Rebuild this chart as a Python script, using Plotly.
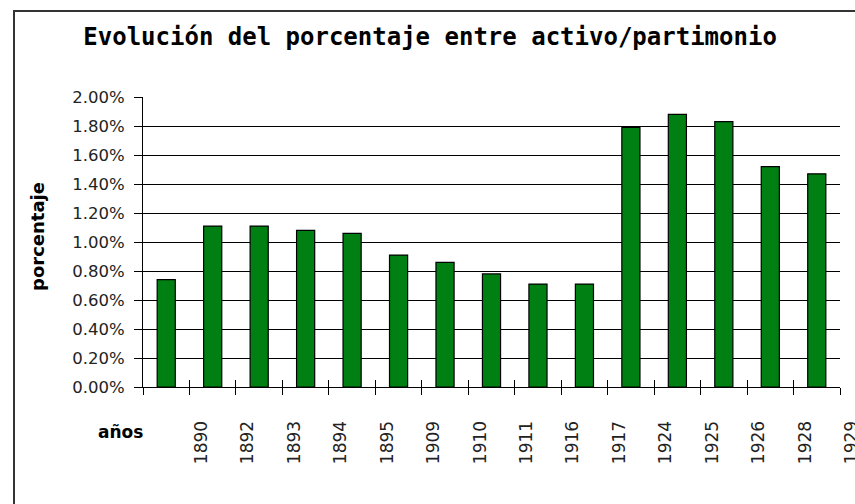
import plotly.graph_objects as go

years = ["1890", "1892", "1893", "1894", "1895", "1909", "1910", "1911",
         "1916", "1917", "1924", "1925", "1926", "1928", "1929"]
porcentaje = [0.0074, 0.0111, 0.0111, 0.0108, 0.0106, 0.0091, 0.0086, 0.0078,
              0.0071, 0.0071, 0.0179, 0.0188, 0.0183, 0.0152, 0.0147]
y_ticks = [0.000, 0.002, 0.004, 0.006, 0.008, 0.010, 0.012, 0.014, 0.016, 0.018, 0.020]

W, H = 855, 504
ML, MR, MT, MB = 143, 15, 97, 117
pw, ph = W - ML - MR, H - MT - MB

def px_x(p):
    return (p - ML) / pw

def px_y(p):
    return (H - MB - p) / ph

fig = go.Figure()
fig.add_trace(go.Bar(
    x=years, y=porcentaje,
    marker=dict(color="#008013", line=dict(color="#000000", width=1.2)),
    width=0.39,
    hoverinfo="skip",
))
fig.add_trace(go.Scatter(
    x=years, y=porcentaje, xaxis="x2", mode="markers",
    marker=dict(opacity=0), hoverinfo="skip", showlegend=False,
))

tickfont = dict(family="DejaVu Sans", size=16.5, color="#222222")

fig.update_layout(
    width=W, height=H,
    margin=dict(l=ML, r=MR, t=MT, b=MB, autoexpand=False),
    paper_bgcolor="white", plot_bgcolor="white",
    showlegend=False,
    title=dict(
        text="Evolución del porcentaje entre activo/partimonio",
        font=dict(family="DejaVu Sans Mono", size=24, color="#000000", weight="bold"),
        x=0.503, xanchor="center", xref="container",
        y=1 - 37 / H, yanchor="middle", yref="container",
    ),
    xaxis=dict(
        type="category",
        tickson="boundaries",
        ticks="outside", ticklen=7, tickwidth=1.2, tickcolor="#000",
        showline=True, linecolor="#000", linewidth=1.2,
        showgrid=False, zeroline=False,
        tickangle=-90,
        tickfont=dict(family="DejaVu Sans", size=17, color="#222222"),
        ticklabelshift=35,
        ticklabelstandoff=26,
        range=[-0.5, 14.5],
    ),
    xaxis2=dict(
        type="category", overlaying="x", matches="x", anchor="y",
        tickson="boundaries",
        ticks="inside", ticklen=7, tickwidth=1.2, tickcolor="#000",
        showticklabels=False, showline=False, showgrid=False, zeroline=False,
    ),
    yaxis=dict(
        range=[0, 0.02],
        tickmode="array", tickvals=y_ticks,
        tickformat=".2%",
        ticks="outside", ticklen=8, tickwidth=1.2, tickcolor="#000",
        showline=True, linecolor="#000", linewidth=1.2,
        showgrid=True, gridcolor="#000", gridwidth=1.2,
        zeroline=False,
        tickfont=tickfont,
        ticklabelstandoff=6,
    ),
    annotations=[
        dict(text="<b>porcentaje</b>", xref="paper", yref="paper",
             x=px_x(37), y=px_y(237), xanchor="center", yanchor="middle",
             textangle=-90, showarrow=False,
             font=dict(family="DejaVu Sans", size=18, color="#000")),
        dict(text="<b>años</b>", xref="paper", yref="paper",
             x=px_x(120), y=px_y(432), xanchor="center", yanchor="middle",
             showarrow=False,
             font=dict(family="DejaVu Sans", size=17, color="#000")),
    ],
    shapes=[
        dict(type="rect", xref="paper", yref="paper",
             x0=px_x(14), x1=px_x(W + 40), y0=px_y(H + 40), y1=px_y(11),
             line=dict(color="#333333", width=2), fillcolor="rgba(0,0,0,0)",
             layer="above"),
    ],
)

fig.write_html(
    "out.html",
    config={"displayModeBar": False},
    post_script="document.body.style.margin='0';document.body.style.overflow='hidden';",
)
